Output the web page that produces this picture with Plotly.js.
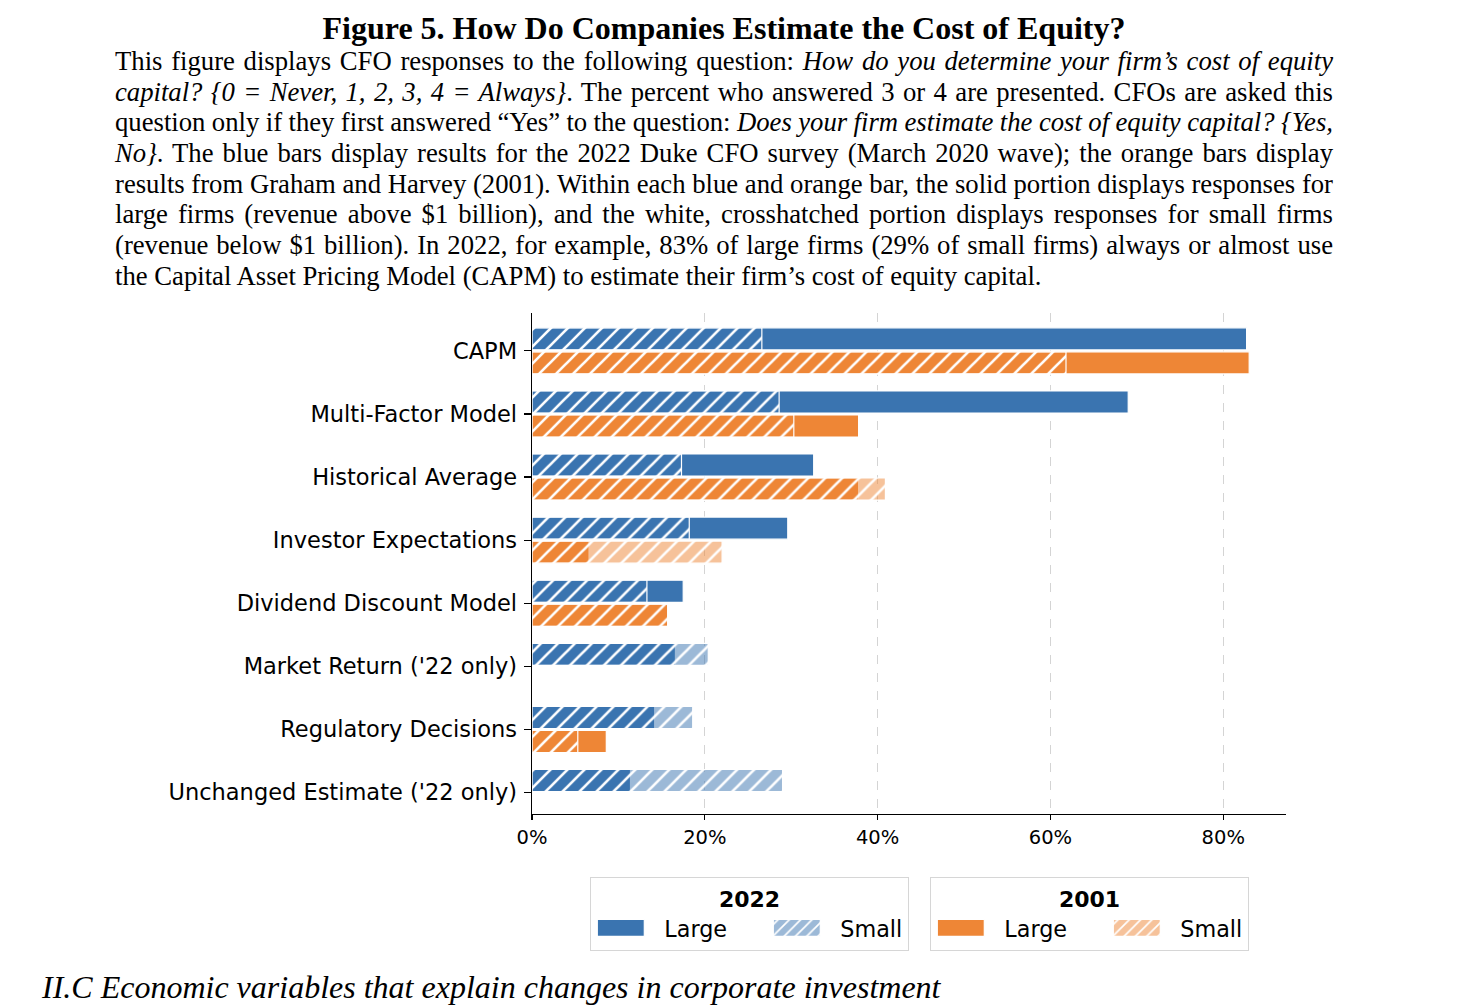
<!DOCTYPE html>
<html>
<head>
<meta charset="utf-8">
<script src="https://cdn.plot.ly/plotly-3.0.1.min.js"></script>
<style>
  html, body { margin: 0; padding: 0; background: #fff; }
  #wrap { position: relative; width: 1478px; height: 1008px; overflow: hidden; }
  #chart { position: absolute; left: 0; top: 0; width: 1478px; height: 1008px; }
  .cap { position: absolute; font-family: "Liberation Serif", "Times New Roman", serif; color: #000; white-space: nowrap; z-index: 5; }
  #title { left: 0; width: 1448px; top: 10px; text-align: center; font-weight: bold; font-size: 32px; line-height: 36px; }
  #para { left: 115px; top: 46px; width: 1218px; font-size: 26.7px; }
  .ln { height: 30.7px; line-height: 30.7px; white-space: nowrap; }
  #foot { left: 42px; top: 969px; font-size: 32px; line-height: 36px; font-style: italic; }
</style>
</head>
<body>
<div id="wrap">
  <div id="chart"></div>
  <div id="title" class="cap">Figure 5. How Do Companies Estimate the Cost of Equity?</div>
  <div id="para" class="cap">
    <div class="ln j"><span>This figure displays CFO responses to the following question: <i>How do you determine your firm’s cost of equity</i></span></div>
    <div class="ln j"><span><i>capital? {0 = Never, 1, 2, 3, 4 = Always}</i>. The percent who answered 3 or 4 are presented. CFOs are asked this</span></div>
    <div class="ln j"><span>question only if they first answered “Yes” to the question: <i>Does your firm estimate the cost of equity capital? {Yes,</i></span></div>
    <div class="ln j"><span><i>No}</i>. The blue bars display results for the 2022 Duke CFO survey (March 2020 wave); the orange bars display</span></div>
    <div class="ln j"><span>results from Graham and Harvey (2001). Within each blue and orange bar, the solid portion displays responses for</span></div>
    <div class="ln j"><span>large firms (revenue above $1 billion), and the white, crosshatched portion displays responses for small firms</span></div>
    <div class="ln j"><span>(revenue below $1 billion). In 2022, for example, 83% of large firms (29% of small firms) always or almost use</span></div>
    <div class="ln"><span>the Capital Asset Pricing Model (CAPM) to estimate their firm’s cost of equity capital.</span></div>
  </div>
  <div id="foot" class="cap">II.C Economic variables that explain changes in corporate investment</div>
</div>
<script>
// ---- Data (percent of CFOs answering 3 or 4) ----
const categories = [
  "CAPM",
  "Multi-Factor Model",
  "Historical Average",
  "Investor Expectations",
  "Dividend Discount Model",
  "Market Return ('22 only)",
  "Regulatory Decisions",
  "Unchanged Estimate ('22 only)"
];
const large2022 = [82.7, 69.0, 32.6, 29.6, 17.5, 16.6, 14.2, 11.4];
const small2022 = [26.6, 28.6, 17.3, 18.2, 13.3, 20.4, 18.6, 29.0];
const large2001 = [83.0, 37.8, 37.8, 6.6, 15.7, null, 8.6, null];
const small2001 = [61.8, 30.3, 40.9, 22.0, 15.7, null, 5.3, null];
const xTickVals = [0, 20, 40, 60, 80];
const xTickText = ["0%", "20%", "40%", "60%", "80%"];
const seriesNames = ["Large", "Small"];
const legendTitles = ["2022", "2001"];

// ---- Styles ----
const BLUE = "rgb(58,116,176)";
const BLUE_LIGHT = "rgba(58,116,176,0.5)";
const ORANGE = "rgb(238,134,54)";
const ORANGE_LIGHT = "rgba(238,134,54,0.5)";
const FONT = "DejaVu Sans";
const edge = { color: "white", width: 1.2 };
const BW = 0.35;

function barTrace(vals, name, color, legend, offset, patterned) {
  const m = { color: color, line: edge };
  if (patterned) m.pattern = { shape: "/", fgcolor: "white", bgcolor: color, fillmode: "replace", size: 12, solidity: 0.22 };
  const t = {
    type: "bar", orientation: "h", y: categories, x: vals, name: name,
    legend: legend, width: BW, offset: offset, marker: m, hoverinfo: "skip"
  };
  if (!patterned) t.legendwidth = 98;   // space before the "Small" entry
  return t;
}

const traces = [
  barTrace(large2022, seriesNames[0], BLUE, "legend", -0.365, false),
  barTrace(small2022, seriesNames[1], BLUE_LIGHT, "legend", -0.365, true),
  barTrace(large2001, seriesNames[0], ORANGE, "legend2", 0.015, false),
  barTrace(small2001, seriesNames[1], ORANGE_LIGHT, "legend2", 0.015, true)
];

function legendCfg(xpx, title) {
  return {
    x: xpx / 1478, y: 1 - 877 / 1008, xref: "container", yref: "container",
    xanchor: "left", yanchor: "top", orientation: "h",
    title: { text: title, side: "top center", font: { family: FONT, size: 22, weight: "bold", color: "#000" } },
    font: { family: FONT, size: 22.3, color: "#000" },
    bgcolor: "white", bordercolor: "#d6d6d6", borderwidth: 1.3,
    itemwidth: 63,
    traceorder: "normal", itemclick: false
  };
}

const layout = {
  width: 1478, height: 1008, autosize: false,
  margin: { l: 532, r: 192, t: 313, b: 194, pad: 0 },
  paper_bgcolor: "white", plot_bgcolor: "white",
  barmode: "overlay",
  font: { family: FONT, color: "#000" },
  showlegend: true,
  xaxis: {
    range: [0, 87.26], tickmode: "array", tickvals: xTickVals, ticktext: xTickText,
    showgrid: true, gridcolor: "#d4d4d4", griddash: "dash", gridwidth: 1,
    zeroline: false, showline: true, linecolor: "#000", linewidth: 1.4,
    ticks: "outside", ticklen: 5, tickwidth: 1.2, tickcolor: "#000",
    tickfont: { family: FONT, size: 19.5, color: "#000" }, ticklabelstandoff: 0,
    fixedrange: true
  },
  yaxis: {
    type: "category", range: [7.34, -0.60],
    showgrid: false, zeroline: false, showline: true, linecolor: "#000", linewidth: 1.4,
    ticks: "outside", ticklen: 7, tickwidth: 1.2, tickcolor: "#000",
    tickfont: { family: FONT, size: 22.5, color: "#000" }, ticklabelstandoff: 2,
    fixedrange: true
  },
  legend: legendCfg(590, legendTitles[0]),
  legend2: legendCfg(930, legendTitles[1])
};

// Wider legend swatches, like the reference handles
function widenLegendSymbols() {
  document.querySelectorAll("#chart .legendpoints path").forEach(function (p) {
    p.setAttribute("d", "M16.5,8.5H-30.5V-8.5H16.5Z");
  });
}

const gd = document.getElementById("chart");
Plotly.newPlot(gd, traces, layout, { displayModeBar: false, staticPlot: true }).then(function () {
  widenLegendSymbols();
  gd.on("plotly_afterplot", widenLegendSymbols);
  setTimeout(widenLegendSymbols, 50);
  setTimeout(widenLegendSymbols, 300);
});

// ---- Justify caption lines to the measured column width ----
function justify() {
  document.querySelectorAll("#para .ln.j").forEach(function (el) {
    el.style.wordSpacing = "0px";
    const span = el.querySelector("span");
    const w = span.getBoundingClientRect().width;
    const n = (span.textContent.match(/ /g) || []).length;
    if (n > 0) el.style.wordSpacing = ((1218 - w) / n) + "px";
  });
}
justify();
if (document.fonts && document.fonts.ready) document.fonts.ready.then(justify);
</script>
</body>
</html>
